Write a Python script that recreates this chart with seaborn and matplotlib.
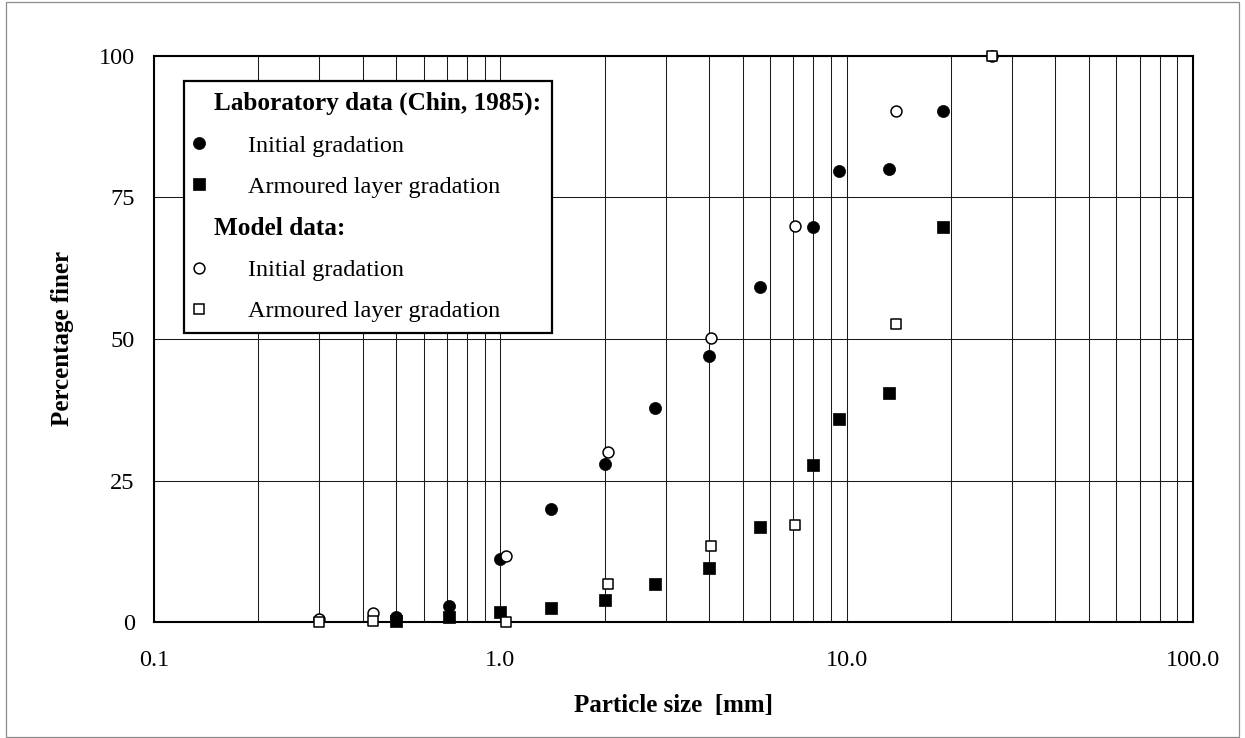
import numpy as np
import pandas as pd
import matplotlib
matplotlib.use("Agg")
import matplotlib.pyplot as plt
import seaborn as sns
from matplotlib.lines import Line2D
from matplotlib.patches import Rectangle
from matplotlib.ticker import LogLocator, NullFormatter

# ---------------- data ----------------
lab_size = [0.5, 0.71, 1.0, 1.4, 2.0, 2.8, 4.0, 5.6, 8.0, 9.5, 13.2, 19.0]
lab_initial = [0.9, 2.9, 11.2, 20.0, 27.9, 37.8, 47.0, 59.2, 69.7, 79.6, 80.0, 90.2]
lab_armoured = [0.3, 1.0, 1.9, 2.5, 4.0, 6.7, 9.6, 16.9, 27.8, 35.9, 40.4, 69.8]

model_size = [0.3, 0.43, 1.04, 2.04, 4.05, 7.1, 13.9, 26.3]
model_initial = [0.6, 1.7, 11.7, 30.1, 50.2, 70.0, 90.2, 100.0]
model_armoured = [0.0, 0.2, 0.0, 6.7, 13.4, 17.2, 52.6, 100.0]

x_ticks = [0.1, 1, 10, 100]
x_tick_labels = ["0.1", "1.0", "10.0", "100.0"]
y_ticks = [0, 25, 50, 75, 100]

legend_labels = ["Laboratory data (Chin, 1985):", "Initial gradation",
                 "Armoured layer gradation", "Model data:",
                 "Initial gradation", "Armoured layer gradation"]

lab_df = pd.DataFrame({"size": lab_size, "initial": lab_initial, "armoured": lab_armoured})
model_df = pd.DataFrame({"size": model_size, "initial": model_initial, "armoured": model_armoured})

# ---------------- style ----------------
sns.set_theme(style="white")
plt.rcParams["font.family"] = ["Liberation Serif", "DejaVu Serif"]
plt.rcParams["font.size"] = 17.5
plt.rcParams["text.color"] = "black"
plt.rcParams["axes.labelcolor"] = "black"
plt.rcParams["xtick.color"] = "black"
plt.rcParams["ytick.color"] = "black"

FS = 17.5
fig = plt.figure(figsize=(12.45, 7.38), dpi=100)
ax = fig.add_axes([154 / 1245, 1 - 622.3 / 738, (1193.3 - 154) / 1245, (622.3 - 55.7) / 738])

common = dict(ax=ax, clip_on=False, legend=False, zorder=4)
sns.scatterplot(data=lab_df, x="size", y="initial", marker="o", s=76,
                color="black", edgecolor="black", linewidth=0.5, **common)
sns.scatterplot(data=lab_df, x="size", y="armoured", marker="s", s=66,
                color="black", edgecolor="black", linewidth=0.5, **common)
sns.scatterplot(data=model_df, x="size", y="initial", marker="o", s=62,
                color="white", edgecolor="black", linewidth=1.1, **common)
sns.scatterplot(data=model_df, x="size", y="armoured", marker="s", s=62,
                color="white", edgecolor="black", linewidth=1.1, **common)

ax.set_xscale("log")
ax.set_xlim(0.1, 100)
ax.set_ylim(0, 100)
ax.set_xticks(x_ticks, x_tick_labels)
ax.xaxis.set_minor_locator(LogLocator(base=10, subs=np.arange(2, 10)))
ax.xaxis.set_minor_formatter(NullFormatter())
ax.set_yticks(y_ticks, [str(v) for v in y_ticks])

ax.grid(True, which="both", axis="x", color="#1a1a1a", linewidth=0.75, zorder=0)
ax.grid(True, which="major", axis="y", color="#1a1a1a", linewidth=0.75, zorder=0)
ax.set_axisbelow(True)

ax.tick_params(axis="x", which="major", direction="out", length=5.3, width=1.1,
               pad=14.5, labelsize=FS)
ax.tick_params(axis="x", which="minor", length=0)
ax.tick_params(axis="y", which="major", direction="out", length=5.3, width=1.1,
               pad=8.6, labelsize=FS)
for sp in ax.spines.values():
    sp.set_color("black")
    sp.set_linewidth(1.5)

ax.set_xlabel("Particle size  [mm]", fontsize=18, fontweight="bold", va="center")
ax.xaxis.set_label_coords(0.5, (622.3 - 706) / 566.6)
ax.set_ylabel("Percentage finer", fontsize=18, fontweight="bold", va="center")
ax.yaxis.set_label_coords((63 - 154) / 1039.3, 0.5)

# ---------------- legend ----------------
blank = Line2D([], [], ls="none", marker=None)
h1 = Line2D([], [], ls="none", marker="o", markersize=8.7, mfc="black", mec="black", mew=0.5)
h2 = Line2D([], [], ls="none", marker="s", markersize=8.1, mfc="black", mec="black", mew=0.5)
h3 = Line2D([], [], ls="none", marker="o", markersize=7.8, mfc="white", mec="black", mew=1.1)
h4 = Line2D([], [], ls="none", marker="s", markersize=7.8, mfc="white", mec="black", mew=1.1)
leg = ax.legend([blank, h1, h2, blank, h3, h4], legend_labels,
                loc="upper left", bbox_to_anchor=((184 - 154) / 1039.3, (622.3 - 81) / 566.6),
                borderaxespad=0, frameon=True, fancybox=False, framealpha=1,
                edgecolor="black", facecolor="white", fontsize=FS,
                borderpad=0.45, handlelength=0.33, handletextpad=1.85,
                labelspacing=0.79)
leg.get_frame().set_linewidth(1.6)
leg.set_zorder(6)
texts = leg.get_texts()
items = [it for col in leg._legend_handle_box.get_children() for it in col.get_children()]
for i in (0, 3):
    texts[i].set_fontweight("bold")
    texts[i].set_fontsize(18.2)
    da = items[i].get_children()[0]
    da.width = 0
    items[i].sep = 19 * 72 / 100

# outer border
fig.add_artist(Rectangle((6 / 1245, 1 - 736.7 / 738), (1239 - 6) / 1245, (736.7 - 2) / 738,
                         transform=fig.transFigure, fill=False, edgecolor="#8c8c8c",
                         linewidth=0.9))

fig.savefig("out.png", dpi=100)
